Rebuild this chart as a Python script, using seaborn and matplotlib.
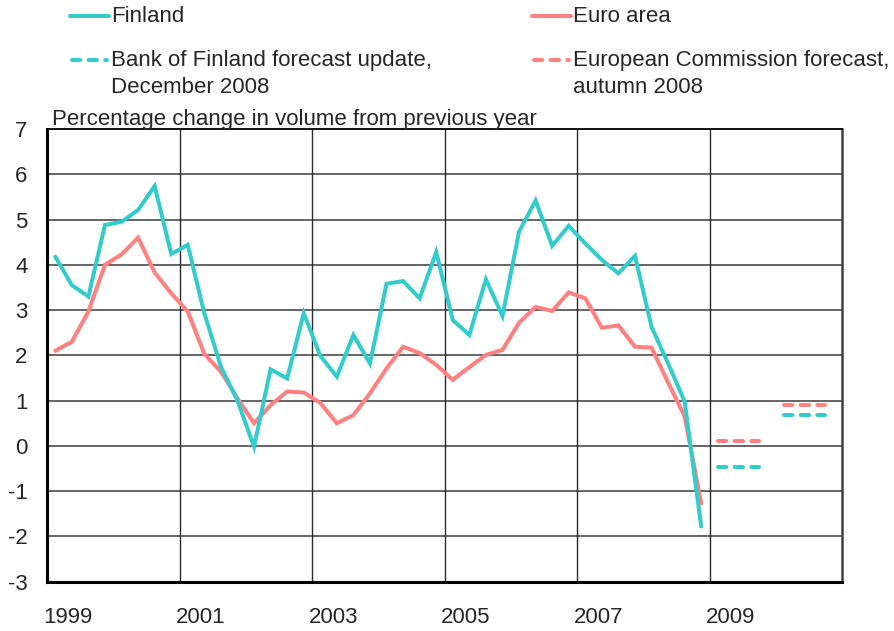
import matplotlib
matplotlib.use("Agg")
import numpy as np
import pandas as pd
import matplotlib.pyplot as plt
import seaborn as sns
from matplotlib.lines import Line2D

# ---------------- data ----------------
quarters = pd.period_range("1999Q1", "2008Q4", freq="Q")
finland = [4.18, 3.55, 3.30, 4.88, 4.95, 5.21, 5.74, 4.24,
           4.44, 2.93, 1.75, 1.00, -0.02, 1.69, 1.49, 2.93,
           1.99, 1.53, 2.45, 1.82, 3.58, 3.64, 3.26, 4.28,
           2.78, 2.45, 3.68, 2.87, 4.73, 5.42, 4.42, 4.86,
           4.47, 4.11, 3.81, 4.20, 2.63, 1.82, 0.98, -1.78]
euro_area = [2.10, 2.30, 2.97, 4.00, 4.23, 4.60, 3.83, 3.37,
             2.97, 2.03, 1.64, 1.05, 0.50, 0.90, 1.20, 1.18,
             0.95, 0.50, 0.68, 1.16, 1.71, 2.19, 2.05, 1.79,
             1.46, 1.74, 2.01, 2.12, 2.72, 3.07, 2.98, 3.39,
             3.26, 2.61, 2.66, 2.19, 2.17, 1.40, 0.65, -1.27]
forecast_years = [2009, 2010]
finland_forecast = [-0.47, 0.69]   # Bank of Finland, Dec 2008
euro_forecast = [0.11, 0.90]       # European Commission, autumn 2008

series_names = ["Finland", "Euro area"]
forecast_labels = ["Bank of Finland forecast update,\nDecember 2008",
                   "European Commission forecast,\nautumn 2008"]
year_labels = ["1999", "2001", "2003", "2005", "2007", "2009"]
y_ticks = list(range(-3, 8))
y_title = "Percentage change in volume from previous year"

TEAL = "#33CCCC"
SALMON = "#FF8080"
palette = {"Finland": TEAL, "Euro area": SALMON}

# ---------------- frames ----------------
qx = [p.year + (p.quarter - 1) / 4 + 0.125 for p in quarters]
hist = pd.DataFrame({
    "x": qx * 2,
    "value": finland + euro_area,
    "series": ["Finland"] * len(qx) + ["Euro area"] * len(qx),
})

seg_offsets = [0.125, 0.75]
fc_rows = []
for name, vals in [("Finland", finland_forecast), ("Euro area", euro_forecast)]:
    for yr, v in zip(forecast_years, vals):
        for off in seg_offsets:
            fc_rows.append({"x": yr + off, "value": v, "series": name,
                            "seg": f"{name}-{yr}"})
fc = pd.DataFrame(fc_rows)

# ---------------- figure ----------------
sns.set_theme(style="white")
plt.rcParams["font.family"] = ["Liberation Sans", "DejaVu Sans"]
FS = 16

fig = plt.figure(figsize=(8.95, 6.31), dpi=100)
ax = fig.add_axes([47 / 895, 1 - 581.7 / 631, (842 - 47) / 895, (581.7 - 129) / 631])

LW = 2.9
sns.lineplot(data=hist, x="x", y="value", hue="series", hue_order=["Euro area", "Finland"],
             palette=palette, lw=LW, legend=False, ax=ax, estimator=None, zorder=3)
n_before = len(ax.lines)
sns.lineplot(data=fc, x="x", y="value", hue="series", units="seg", estimator=None,
             palette=palette, lw=LW, legend=False, ax=ax, zorder=3)
for ln in ax.lines[n_before:]:
    ln.set_dashes((2.07, 2.07))
    ln.set_dash_capstyle("round")
for ln in ax.lines[:n_before]:
    ln.set_solid_joinstyle("miter")

ax.set_xlim(1999, 2011)
ax.set_ylim(-3, 7)
ax.set_xlabel("")
ax.set_ylabel("")

# y axis
ax.set_yticks(y_ticks)
ax.set_yticklabels([str(t) for t in y_ticks], fontsize=FS)
ax.tick_params(axis="y", length=0, pad=14)
for t in y_ticks[1:-1]:
    ax.axhline(t, color="#3c3c3c", lw=1.1, zorder=1)

# x axis: labels slightly right of year boundaries
label_years = [int(s) for s in year_labels]
ax.set_xticks([y + 0.32 for y in label_years])
ax.set_xticklabels(year_labels, fontsize=FS)
ax.tick_params(axis="x", which="major", length=0, pad=18)
ax.set_xticks(list(range(2000, 2011)), minor=True)
ax.tick_params(axis="x", which="minor", direction="in", length=4, width=1, color="#333333")
for yr in range(2001, 2010, 2):
    ax.axvline(yr, color="#2a2a2a", lw=1.0, zorder=1)

ax.grid(False)
for side in ["left", "bottom"]:
    ax.spines[side].set_color("black")
    ax.spines[side].set_linewidth(2.2)
ax.spines["top"].set_color("black")
ax.spines["top"].set_linewidth(1.3)
ax.spines["right"].set_color("#404040")
ax.spines["right"].set_linewidth(1.8)

fig.text(52 / 895, 1 - 119 / 631, y_title, fontsize=FS, va="center", ha="left")

# ---------------- legend (manual layout) ----------------
def fy(py):
    return 1 - py / 631

def fx(px):
    return px / 895

for x0, col, name in [(70, TEAL, series_names[0]), (532, SALMON, series_names[1])]:
    fig.add_artist(Line2D([fx(x0), fx(x0 + 39)], [fy(16), fy(16)], color=col, lw=LW,
                          transform=fig.transFigure))
    fig.text(fx(x0 + 41), fy(16), name, fontsize=FS, va="center", ha="left")

for x0, col, lab in [(70, TEAL, forecast_labels[0]), (532, SALMON, forecast_labels[1])]:
    fig.add_artist(Line2D([fx(x0 + 2), fx(x0 + 37)], [fy(60), fy(60)], color=col, lw=LW,
                          dashes=(2.07, 2.07), dash_capstyle="round",
                          transform=fig.transFigure))
    fig.text(fx(x0 + 41), fy(50), lab, fontsize=FS, va="top", ha="left", linespacing=1.4)

fig.savefig("out.png", dpi=100)
